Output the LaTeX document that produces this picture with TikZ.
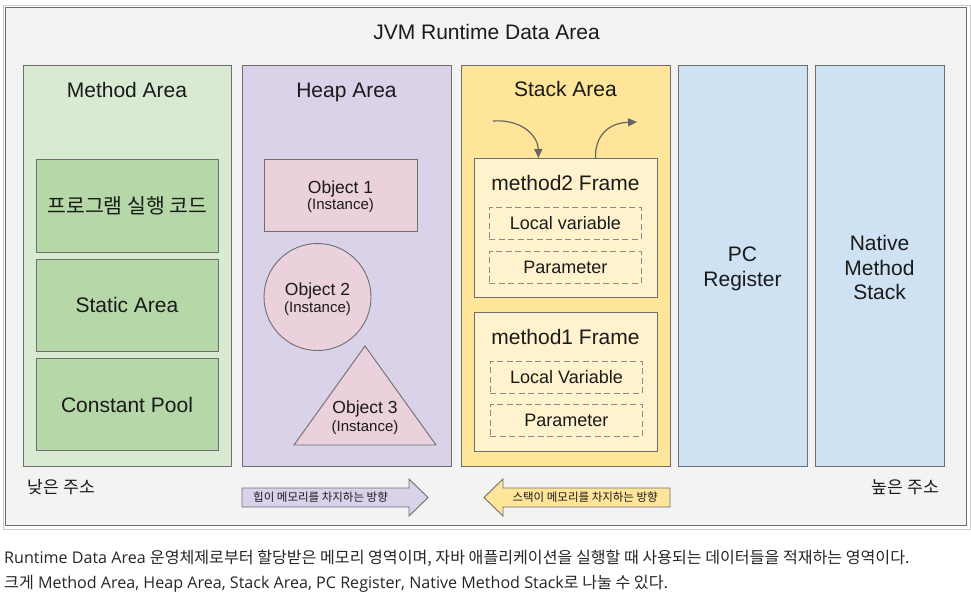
\documentclass[tikz,border=0pt]{standalone}
\usepackage{fontspec}
\setmainfont{Liberation Sans}
\newfontfamily\kr{Noto Sans CJK KR}
\newfontfamily\os{Open Sans}
\usetikzlibrary{arrows.meta}
\definecolor{bgc}{HTML}{F3F3F3}
\definecolor{bd}{HTML}{6E6E6E}
\definecolor{greenA}{HTML}{D9EAD3}
\definecolor{greenB}{HTML}{B6D7A8}
\definecolor{purpA}{HTML}{D9D2E9}
\definecolor{pinkA}{HTML}{EAD1DC}
\definecolor{yelA}{HTML}{FFE599}
\definecolor{yelB}{HTML}{FFF2CC}
\definecolor{bluA}{HTML}{CFE2F3}
\definecolor{arrg}{HTML}{666666}
\definecolor{txt}{HTML}{1A1A1A}
\tikzset{
  box/.style={draw=bd, line width=0.9pt, inner sep=0pt, anchor=north west},
  dbox/.style={draw=bd!80, line width=0.9pt, dash pattern=on 6pt off 3.5pt, inner sep=0pt, anchor=north west, fill=yelB},
  big/.style={font=\fontsize{21}{25}\selectfont, inner sep=0pt, anchor=base, text=txt},
  mid/.style={font=\fontsize{18}{21}\selectfont, inner sep=0pt, text=txt},
  objt/.style={font=\fontsize{17.5}{20}\selectfont, inner sep=0pt, anchor=base, text=txt},
  inst/.style={font=\fontsize{15}{17}\selectfont, inner sep=0pt, anchor=base, text=txt},
  flow/.style={draw=arrg, line width=1.2pt, -{Triangle[length=9pt,width=8pt]}},
  blockarr/.style={draw=bd, line width=0.9pt},
  krsmall/.style={font=\kr\fontsize{11.5}{13}\selectfont, inner sep=0pt, text=txt},
  addr/.style={font=\kr\fontsize{17.2}{19}\selectfont, inner sep=0pt, text=txt},
  capt/.style={inner sep=0pt, anchor=base west, text=black!85}
}
\begin{document}
\begin{tikzpicture}[x=1pt,y=-1pt]
\useasboundingbox (0,0) rectangle (971,596);
\fill[white] (0,0) rectangle (971,596);
% outer frame
\draw[draw=black!20, line width=0.8pt] (3,5) rectangle (970,529);
\node[box, fill=bgc, minimum width=961pt, minimum height=518pt] (frame) at (5,7) {};
\node[big, font=\fontsize{21}{25}\selectfont] (title) at (486.5,39.3) {JVM Runtime Data Area};

% columns
\node[box, fill=greenA, minimum width=208pt, minimum height=401pt] (ma) at (23,65) {};
\node[box, fill=purpA, minimum width=209pt, minimum height=401pt] (ha) at (242,65) {};
\node[box, fill=yelA, minimum width=209pt, minimum height=401pt] (sa) at (461,65) {};
\node[box, fill=bluA, minimum width=129pt, minimum height=401pt] (pc) at (678,65) {};
\node[box, fill=bluA, minimum width=129pt, minimum height=401pt] (nms) at (815,65) {};

\node[big] (mat) at (127,97.3) {Method Area};
\node[big] (hat) at (346.5,97.3) {Heap Area};
\node[big] (sat) at (565.5,97) {Stack Area};

% method area contents
\node[box, fill=greenB, minimum width=182pt, minimum height=93pt] (code) at (36,159) {};
\node[font=\kr\fontsize{20.5}{24}\selectfont, inner sep=0pt, text=txt] (codet) at (code.center) {프로그램 실행 코드};
\node[box, fill=greenB, minimum width=182pt, minimum height=92pt] (static) at (36,259) {};
\node[big] (statict) at (127,312.5) {Static Area};
\node[box, fill=greenB, minimum width=182pt, minimum height=92pt] (cpool) at (36,358) {};
\node[big] (cpoolt) at (127,412) {Constant Pool};

% heap contents
\node[box, fill=pinkA, minimum width=153pt, minimum height=72pt] (o1) at (264,159) {};
\node[objt] (o1a) at (340.5,193.3) {Object 1};
\node[inst] (o1b) at (340.5,209.5) {(Instance)};
\node[draw=bd, line width=0.9pt, fill=pinkA, circle, minimum size=107pt, inner sep=0pt] (o2) at (317.5,297) {};
\node[objt] (o2a) at (317.5,295.5) {Object 2};
\node[inst] (o2b) at (317.5,312.5) {(Instance)};
\draw[draw=bd, line width=0.9pt, fill=pinkA] (365,346) -- (436,445) -- (294,445) -- cycle;
\node[objt] (o3a) at (365,413.5) {Object 3};
\node[inst] (o3b) at (365,431) {(Instance)};

% stack contents
\node[box, fill=yelB, minimum width=183pt, minimum height=139pt] (m2) at (474,158) {};
\node[big] (m2t) at (565.5,190) {method2 Frame};
\node[dbox, minimum width=152pt, minimum height=32pt] (lv2) at (489,207) {};
\node[mid] at (lv2.center) (lv2t) {Local variable};
\node[dbox, minimum width=152pt, minimum height=32pt] (p2) at (489,251) {};
\node[mid] at (p2.center) (p2t) {Parameter};

\node[box, fill=yelB, minimum width=183pt, minimum height=139pt] (m1) at (474,312) {};
\node[big] (m1t) at (565.5,344.3) {method1 Frame};
\node[dbox, minimum width=152pt, minimum height=32pt] (lv1) at (490,361) {};
\node[mid] at (lv1.center) (lv1t) {Local Variable};
\node[dbox, minimum width=152pt, minimum height=32pt] (p1) at (490,404) {};
\node[mid] at (p1.center) (p1t) {Parameter};

\coordinate (pushs) at (493,121);
\coordinate (pope) at (637,122);
\draw[flow] (pushs) .. controls (522,119) and (538,136) .. ([xshift=-27.5pt]m2.north);
\draw[flow] ([xshift=29.5pt]m2.north) .. controls (595,136) and (608,123) .. (pope);

% PC register / native
\node[big] (pc1) at (742.5,261.7) {PC};
\node[big] (pc2) at (742.5,286.7) {Register};
\node[big] (n1) at (879.5,250.3) {Native};
\node[big] (n2) at (879.5,275) {Method};
\node[big] (n3) at (879.5,299.7) {Stack};

% address labels
\node[addr] (low) at (61.5,487) {낮은 주소};
\node[addr] (high) at (905.5,487) {높은 주소};

% block arrows
\draw[blockarr, fill=purpA] (242,488) -- (409,488) -- (409,479) -- (428,497.5) -- (409,516) -- (409,507) -- (242,507) -- cycle;
\node[krsmall, anchor=west] (heapdir) at (253,497.5) {힙이 메모리를 차지하는 방향};
\draw[blockarr, fill=yelA] (670,488) -- (503,488) -- (503,479) -- (484,497.5) -- (503,516) -- (503,507) -- (670,507) -- cycle;
\node[krsmall, anchor=east] (stackdir) at (658,497.5) {스택이 메모리를 차지하는 방향};

% caption
\node[capt] (cap1) at (4,563.3) {\fontsize{16.1}{19}\selectfont{\os Runtime Data Area }{\kr 운영체제로부터 할당받은 메모리 영역이며, 자바 애플리케이션을 실행할 때 사용되는 데이터들을 적재하는 영역이다.}};
\node[capt] (cap2) at (4,588.3) {\fontsize{16.1}{19}\selectfont{\kr 크게}{\os{} Method Area, Heap Area, Stack Area, PC Register, Native Method Stack}{\kr 로 나눌 수 있다.}};
\end{tikzpicture}
\end{document}
